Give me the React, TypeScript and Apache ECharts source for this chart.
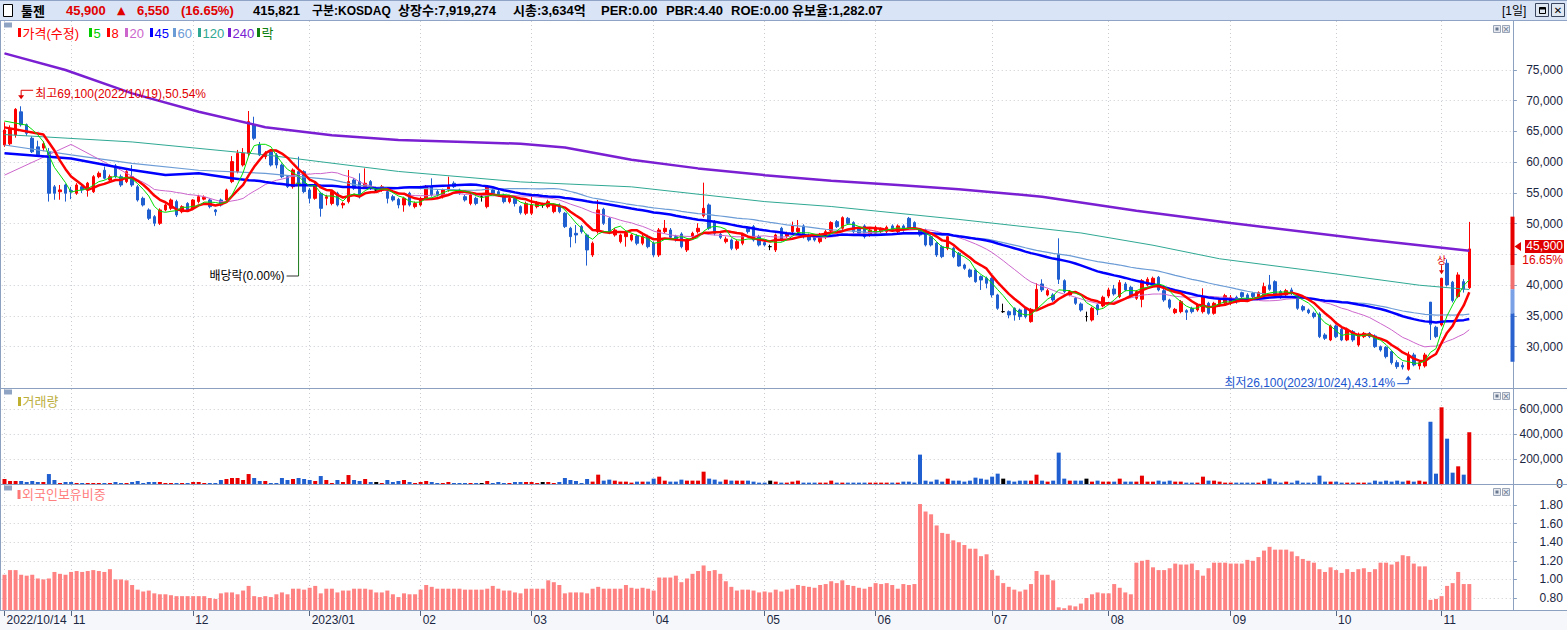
import React, { useEffect, useRef } from 'react';
import * as echarts from 'echarts';

// ---------------- data ----------------
const openP = [
62800,63000,64430,68200,66100,63900,62500,62300,61700,56000,
55200,56300,55400,54950,56000,55500,55200,57650,58700,57100,
59400,57650,56850,57650,56000,54130,52240,51150,50070,52240,
52500,53600,51950,53300,52500,53600,54000,53860,52240,53860,
53860,56850,58470,59550,61450,66060,62800,60900,61700,61180,
59550,57650,56030,58470,58470,55490,54130,54950,54130,53300,
54950,53050,53600,57100,56850,56030,56850,55490,55490,55220,
54400,53970,53050,54950,52780,53050,54130,56030,55220,54400,
55490,56580,55490,54400,53300,54130,54400,52780,55490,55220,
54670,53590,54130,52780,51700,51700,52780,53050,52780,51970,
53050,51700,49260,48440,49530,48170,44920,48710,52350,50880,
48170,47090,47900,47360,48010,46820,47900,46820,44920,48710,
48980,47900,48330,45730,47900,48710,51300,53050,50340,48280,
47090,47360,46000,46820,49260,49530,47900,46930,46270,45730,
49260,48010,48710,48710,49640,48170,48010,47090,47790,48880,
50340,49260,50880,50180,49260,49640,48170,48440,48710,48710,
49640,48710,49640,50880,50180,49090,48980,47900,46820,46270,
46000,46000,45190,43290,42480,42480,41400,41130,41130,38420,
35700,35700,36250,35970,36250,34080,36080,40200,38420,38420,
45030,40740,38420,37870,36950,34900,34350,36790,36630,38250,
39390,38150,40200,39660,37870,37710,40040,40200,41290,39120,
37600,35540,35700,35870,36250,35970,35700,37060,35430,36790,
37100,37060,38030,38790,38420,38690,38030,38420,40040,40580,
38960,38420,39230,38420,36520,35970,35430,35330,31910,31100,
33370,32830,31100,32450,30280,31640,32180,31750,30010,29900,
29200,27410,26980,26330,28660,26870,26870,37250,33160,33540,
43570,40500,38150,40580,39600
];
const highP = [
66500,66000,68800,69100,66300,64200,63500,63400,62300,56300,
56300,56500,56000,56600,56400,56800,57900,58500,59300,58000,
59700,58000,58700,59550,56300,54400,52500,51400,52500,53300,
54100,53900,53000,53500,54000,54700,54600,54100,52400,54100,
55700,61000,62000,62300,68330,67400,63300,61800,62000,61500,
59800,57900,59000,60900,58700,55800,56600,55200,54700,55500,
55200,53600,58740,57400,58200,59000,57100,56000,56300,55500,
54700,54200,54400,55200,53600,54400,56300,57380,55500,55700,
57650,56900,55700,54700,54900,54400,54800,56300,55700,55500,
54900,54400,54400,53000,53600,54400,53700,53400,53900,53300,
53300,51900,49500,49800,49800,48400,47100,53860,52600,51100,
49300,48400,48700,48400,48300,48200,48200,47100,49300,50610,
49300,48200,48600,47600,48700,50070,56680,53300,50600,48500,
47900,47600,47400,48500,49500,49800,48200,47200,46600,48400,
49500,48700,50340,50610,49900,48400,48300,48500,49000,50400,
50600,51200,51100,50400,49500,49900,49300,49700,49400,49700,
49900,49900,49900,51100,50400,49300,49200,48100,47000,46500,
48100,46200,45400,43500,42700,42700,41600,41400,41300,38600,
37000,35900,36400,36200,36400,36300,40310,40960,39400,38700,
47630,40960,39200,38100,37200,35700,36500,37000,38300,39600,
40040,40850,40500,39900,39200,41000,41300,41400,41500,39400,
37800,36300,37600,36100,36500,37000,39500,37300,37300,37900,
38600,38400,38300,38950,38700,38900,39000,40420,41670,40800,
39200,39400,39600,38700,36800,36200,35700,35600,32200,33600,
33600,33100,33100,32700,32300,32400,32400,32000,30200,30100,
29400,27800,27500,29200,29000,27700,29000,37250,33400,41130,
44200,40700,42100,41000,50300
];
const lowP = [
62500,62700,64000,65800,64300,61500,60900,61800,53600,53900,
53900,53600,54000,54700,55000,54400,55000,57400,57200,56900,
57400,56000,56600,56000,53600,52800,50600,49600,49800,52000,
52200,51100,51700,52000,52200,53300,53800,52500,51300,52800,
53600,56600,58200,59300,61000,63600,61000,60500,59300,59000,
57400,55800,55700,56300,54950,53300,53900,51150,53000,53000,
52800,52500,53300,55500,54100,55800,55500,55000,55200,53300,
53600,52500,51950,52800,52500,52800,53900,54400,54400,54100,
55200,55800,54700,53600,53000,53000,53600,52500,54700,54400,
53300,53300,52800,51500,51400,51400,52500,52600,52500,51700,
51700,49300,46160,46820,48400,43190,44600,48400,49800,48300,
47900,46800,46270,47100,46500,46500,46000,44600,44600,48400,
47500,47100,46000,45400,47600,48400,51000,49000,48100,47500,
46800,45700,45700,46500,48400,47100,46300,46300,45700,45400,
47100,47700,48400,48400,47600,47100,47100,46800,47500,48600,
49300,49000,49800,48400,48200,47600,47900,48200,48400,48400,
48700,48400,48700,49000,49000,47900,46300,46300,44600,44400,
45700,44400,43000,42500,41200,40400,39230,39500,38000,36000,
35500,34620,34240,34350,34600,33900,35800,38900,38200,37300,
40200,38700,38200,36800,35700,34100,34100,35150,36400,37900,
38300,37900,39000,38000,37600,36410,39800,39900,39000,37300,
36100,35300,35430,34350,35400,35700,35400,35200,35200,36500,
36800,36800,37000,37330,37300,37900,37800,38200,39100,38200,
37800,38200,38400,36000,35700,35300,34600,31400,31100,30900,
31400,30900,30900,30800,30000,31400,31400,29800,29200,28100,
27100,26400,26300,26100,26800,26300,26600,31100,31400,33300,
39800,37200,37900,38800,39400
];
const closeP = [
65240,65500,68600,66100,64700,61700,61200,63000,54950,54950,
55500,54950,55200,56300,55500,56600,57650,58200,57400,57650,
57650,56300,58470,56300,53860,53050,50880,50070,52240,53050,
53860,51420,52780,52240,53860,54400,54300,52780,51950,53050,
55490,60100,61450,61450,66600,63900,61180,61450,59550,59550,
57650,56030,58740,56580,55220,54130,56300,52500,54400,55220,
53050,53300,56850,55760,54400,56580,55760,55490,56030,54130,
53860,53050,54130,53050,53300,54130,56030,54670,54670,55490,
56030,56030,54950,53860,54670,53300,54400,56030,54950,54670,
53590,54130,53300,51800,53300,53050,53450,53050,53590,53050,
51970,49530,47900,48170,48710,45730,46820,52240,50070,48550,
48980,48170,48440,48170,46820,47900,46270,44920,48980,49260,
47790,47360,46270,47360,48440,49260,52510,49260,48440,47790,
47520,46000,47090,48280,48710,47360,46550,46550,46270,48170,
47360,48440,49640,49260,47900,47360,47360,48280,48710,50180,
49530,50990,50070,48710,48440,47900,48980,49420,49090,49420,
48980,49640,48980,49260,49260,48170,46550,46550,44920,44650,
47900,44650,43130,42750,41400,40580,40850,40310,38420,36250,
35700,35160,35160,34890,34890,36080,39330,39230,39120,37600,
40960,38960,38960,37060,35970,34900,36250,35970,38040,39230,
38580,40420,39230,38250,38960,40740,40960,41130,39230,37600,
36410,36080,37330,35600,35700,36790,38150,35430,37060,37600,
38300,38030,37330,38150,37600,38150,38790,39770,39340,38420,
38030,39120,38690,36250,35970,35540,34890,31640,31370,33370,
31640,31100,32830,31100,32020,32180,31640,30010,29470,28390,
27410,26760,26700,28660,27030,27410,28660,33650,31640,41130,
40040,37500,41670,39350,45900
];
const volume = [
40000,24000,24000,24000,16000,24000,16000,16000,80000,32000,
8000,16000,16000,8000,8000,8000,8000,8000,8000,8000,
16000,8000,8000,16000,24000,8000,16000,16000,16000,8000,
8000,8000,8000,8000,16000,16000,8000,8000,8000,32000,
40000,48000,48000,32000,80000,48000,24000,24000,8000,8000,
48000,32000,40000,48000,40000,32000,24000,64000,32000,8000,
32000,16000,72000,32000,24000,40000,16000,16000,8000,32000,
16000,24000,32000,16000,8000,16000,24000,16000,8000,8000,
16000,8000,8000,8000,8000,8000,8000,24000,8000,16000,
8000,8000,16000,16000,16000,16000,8000,16000,16000,8000,
16000,48000,32000,24000,8000,40000,19000,75000,27000,35000,
27000,19000,19000,11000,19000,19000,19000,43000,59000,27000,
19000,19000,35000,27000,27000,27000,99000,43000,35000,19000,
35000,27000,27000,27000,27000,19000,11000,11000,27000,19000,
11000,11000,19000,27000,11000,11000,11000,11000,11000,27000,
11000,11000,11000,11000,11000,11000,11000,11000,11000,11000,
11000,11000,19000,19000,11000,236000,27000,19000,35000,19000,
43000,27000,27000,19000,27000,51000,43000,35000,59000,83000,
43000,27000,19000,27000,27000,27000,75000,27000,19000,27000,
252000,43000,27000,27000,27000,43000,19000,27000,19000,19000,
19000,43000,19000,19000,19000,67000,19000,19000,27000,19000,
27000,19000,19000,11000,11000,11000,59000,27000,27000,19000,
11000,11000,11000,11000,11000,11000,11000,27000,43000,19000,
11000,19000,11000,27000,11000,11000,11000,67000,19000,19000,
19000,11000,11000,11000,11000,11000,11000,27000,19000,27000,
19000,27000,19000,27000,19000,27000,19000,500000,83000,616000,
364000,91000,142000,75000,415821
];
const foreign = [
1.05,1.10,1.10,1.05,1.04,1.05,1.01,1.00,1.01,1.08,
1.06,1.05,1.08,1.09,1.08,1.09,1.10,1.09,1.08,1.11,
1.00,1.00,0.99,0.94,0.89,0.87,0.88,0.85,0.84,0.84,
0.83,0.82,0.82,0.82,0.82,0.82,0.82,0.80,0.79,0.85,
0.86,0.86,0.84,0.88,0.93,0.82,0.81,0.82,0.81,0.84,
0.86,0.84,0.90,0.90,0.89,0.91,0.93,0.85,0.90,0.90,
0.86,0.88,0.88,0.90,0.90,0.90,0.89,0.86,0.86,0.88,
0.84,0.81,0.85,0.84,0.84,0.89,0.94,0.92,0.90,0.90,
0.90,0.90,0.90,0.89,0.89,0.89,0.89,0.90,0.93,0.90,
0.88,0.88,0.86,0.85,0.90,0.90,0.90,0.90,0.99,0.97,
0.94,0.85,0.86,0.86,0.86,0.85,0.90,0.92,0.90,0.90,
0.90,0.90,0.94,0.91,0.90,0.91,0.90,0.88,1.02,1.02,
1.02,1.04,0.97,1.01,1.06,1.09,
1.15,1.09,1.10,1.06,0.98,0.92,0.88,0.89,0.89,0.88,
0.86,0.87,0.86,0.89,0.87,0.89,0.90,0.94,0.93,0.92,
0.91,0.94,0.95,0.98,0.96,0.99,0.94,0.93,0.91,0.90,
0.92,0.96,0.95,0.96,0.94,0.90,0.95,0.94,0.95,
1.81,1.73,1.70,1.58,1.50,1.49,1.42,1.40,1.37,1.33,
1.33,1.25,1.27,1.10,1.04,0.96,0.92,0.89,0.87,0.89,
0.95,1.09,1.05,1.05,0.99,0.70,0.69,0.72,0.71,0.74,
0.80,0.84,0.86,0.85,0.85,0.95,0.91,0.86,0.84,1.18,
1.20,1.21,1.13,1.10,1.10,1.12,1.17,1.16,1.16,1.17,
1.10,1.04,1.12,1.18,1.18,1.18,1.17,1.17,1.17,1.21,
1.20,1.24,1.31,1.35,1.32,1.32,1.32,1.30,1.25,1.22,
1.20,1.18,1.11,1.08,1.13,1.10,1.07,1.11,1.08,1.11,
1.12,1.08,1.11,1.18,1.18,1.16,1.19,1.26,1.25,1.17,
1.14,1.14,0.78,0.79,0.82,0.93,0.96,1.08,0.95,0.95
];

const ma5Lead: [number, number][] = [[0, 66700]];
const ma8Lead: [number, number][] = [[0, 65670]];
const ma20Lead: [number, number][] = [[0, 57900], [6, 60400], [12, 62900]];
const ma45Lead: [number, number][] = [[0, 61450], [12, 60600], [23, 58740], [29, 57930], [35, 58200], [41, 57380]];
const ma60Lead: [number, number][] = [[0, 62800], [12, 61200], [23, 59800], [35, 58700], [47, 58200]];
const ma120Pts: [number, number][] = [[0,64500],[23,63300],[47,61200],[71,58500],[93,56800],[113,56000],[137,53600],[149,52800],[172,50700],[194,48500],[207,46500],[219,44300],[237,42200],[255,40000],[264,39300]];
const ma240Pts: [number, number][] = [[0,77700],[11,75000],[23,71200],[35,68200],[47,65700],[59,64400],[71,63600],[83,63300],[93,63000],[101,62400],[113,60400],[125,59000],[137,57900],[149,57000],[161,56300],[172,55600],[187,54400],[204,52100],[221,50100],[246,47400],[264,45600]];

// x-axis tick labels (bar index -> label)
const monthTicks: [number, string][] = [[0,'2022/10/14'],[12,'11'],[34,'12'],[55,'2023/01'],[75,'02'],[95,'03'],[117,'04'],[137,'05'],[157,'06'],[178,'07'],[199,'08'],[221,'09'],[240,'10'],[259,'11']];
const priceTicks = [30000, 35000, 40000, 45000, 50000, 55000, 60000, 65000, 70000, 75000];
const priceLabels = [30000, 35000, 40000, 50000, 55000, 60000, 65000, 70000, 75000];
const volTicks = [0, 200000, 400000, 600000];
const forTicks = [0.8, 1.0, 1.2, 1.4, 1.6, 1.8];

const highDate = '2022/10/19';
const lowDate = '2023/10/24';
const exDivIndex = 53;
const upperLimitDays = [259];

const headerInfo: [string, number, number][] = [
  ['구분:KOSDAQ', 312, 12], ['상장수:7,919,274', 398, 13], ['시총:3,634억', 513, 13], ['PER:0.00', 601, 13],
  ['PBR:4.40', 666, 13], ['ROE:0.00', 731, 13], ['유보율:1,282.07', 792, 13],
];

// ---------------- helpers ----------------
const N = closeP.length;
const SLOTS = 272;
const RED = '#ff0000';
const BLUE = '#1f5fd0';
const GRID_COLOR = '#c8ccd3';
const AXIS_COLOR = '#8ca0c0';
const TXT = '#1b2642';
const FONT = '"Liberation Sans", "Noto Sans CJK KR", sans-serif';

const fmt = (v: number) => Math.round(v).toLocaleString('en-US');

function movingAvg(n: number, lead: [number, number][]) {
  const out: (number | null)[] = new Array(N).fill(null);
  lead.forEach(([i, v]) => { out[i] = v; });
  for (let i = n - 1; i < N; i++) {
    let s = 0;
    for (let k = i - n + 1; k <= i; k++) s += closeP[k];
    out[i] = Math.round(s / n);
  }
  return out;
}
function fromPoints(pts: [number, number][]) {
  const out: (number | null)[] = new Array(N).fill(null);
  pts.forEach(([i, v]) => { out[i] = v; });
  return out;
}

export default function App() {
  const ref = useRef<HTMLDivElement>(null);

  useEffect(() => {
    document.body.style.margin = '0';
    const el = ref.current!;
    const chart = echarts.init(el, null, { renderer: 'svg', width: 1567, height: 630 });

    const cats = Array.from({ length: SLOTS }, (_, i) => String(i));
    const monthIdx = new Set(monthTicks.map((t) => t[0]));
    const monthLabel = new Map(monthTicks);
    const isMonth = (idx: number) => monthIdx.has(idx);

    const candle = closeP.map((c, i) => [openP[i], c, lowP[i], highP[i]]);
    const dirColor = (i: number) => (closeP[i] > openP[i] ? '#e80000' : closeP[i] < openP[i] ? BLUE : '#000000');
    const volData = volume.map((v, i) => ({ value: v, itemStyle: { color: dirColor(i) } }));

    const xAxisOf = (g: number, show: boolean) => ({
      type: 'category', gridIndex: g, data: cats, boundaryGap: true,
      axisLine: { show: false },
      axisTick: show ? { show: true, interval: isMonth, alignWithLabel: true, length: 6, lineStyle: { color: '#56657f' } } : { show: false },
      axisLabel: show ? {
        show: true, interval: isMonth, formatter: (v: string) => monthLabel.get(Number(v)) ?? '',
        align: 'left', padding: [0, 0, 0, 2], margin: 4, color: TXT, fontSize: 12, fontFamily: FONT,
      } : { show: false },
      splitLine: { show: true, interval: isMonth, alignWithLabel: true, lineStyle: { color: GRID_COLOR, type: [1, 3] } },
    });
    const yAxisOf = (g: number, min: number, max: number, ticks: number[], labels: number[], f: (v: number) => string) => ({
      type: 'value', gridIndex: g, position: 'right', min, max, offset: 2,
      axisLine: { show: true, lineStyle: { color: AXIS_COLOR } },
      axisTick: { show: true, customValues: ticks, length: 4, lineStyle: { color: AXIS_COLOR } },
      axisLabel: { show: true, customValues: labels, formatter: f, align: 'right', margin: 50, color: TXT, fontSize: 12, fontFamily: FONT },
      splitLine: { show: true, lineStyle: { color: GRID_COLOR, type: [1, 3] } },
    });
    const maLine = (data: (number | null)[], color: string, width: number, z: number) => ({
      type: 'line', xAxisIndex: 0, yAxisIndex: 0, data, symbol: 'none', connectNulls: true, silent: true, z,
      lineStyle: { color, width }, emphasis: { disabled: true },
    });

    const gl = 1.73, gr = 56.1;
    chart.setOption({
      animation: false,
      backgroundColor: 'transparent',
      grid: [
        { left: gl, right: gr, top: 21, height: 367 },
        { left: gl, right: gr, top: 389, height: 95 },
        { left: gl, right: gr, top: 485, height: 125 },
      ],
      xAxis: [xAxisOf(0, false), xAxisOf(1, false), xAxisOf(2, true)],
      yAxis: [
        yAxisOf(0, 23284, 82969, priceTicks, priceLabels, fmt),
        yAxisOf(1, 0, 763000, volTicks, volTicks, fmt),
        yAxisOf(2, 0.671, 2.015, forTicks, forTicks, (v: number) => v.toFixed(2)),
      ],
      series: [
        {
          type: 'candlestick', xAxisIndex: 0, yAxisIndex: 0, data: candle, barWidth: 3, z: 2, silent: true,
          itemStyle: { color: RED, color0: BLUE, borderColor: RED, borderColor0: BLUE, borderColorDoji: '#000', borderWidth: 1 },
        },
        maLine(fromPoints(ma240Pts), '#7a1fd2', 2.5, 3),
        maLine(fromPoints(ma120Pts), '#2fa893', 1, 3),
        maLine(movingAvg(60, ma60Lead), '#6c9cd6', 1.2, 3),
        maLine(movingAvg(20, ma20Lead), '#cc66cc', 1, 3),
        maLine(movingAvg(45, ma45Lead), '#0000ff', 2.5, 4),
        maLine(movingAvg(8, ma8Lead), '#ff0000', 2.5, 4),
        maLine(movingAvg(5, ma5Lead), '#00dd00', 1, 5),
        { type: 'bar', xAxisIndex: 1, yAxisIndex: 1, data: volData, barWidth: 4, silent: true },
        { type: 'bar', xAxisIndex: 2, yAxisIndex: 2, data: foreign, barWidth: 4, silent: true, itemStyle: { color: '#ff8282' } },
      ],
    });

    // ---------- decorations ----------
    const P = (i: number, v: number) => chart.convertToPixel({ xAxisIndex: 0, yAxisIndex: 0 }, [i, v]) as number[];
    const g: any[] = [];
    const T = (text: string, x: number, y: number, fill: string, font: string, align = 'left', z = 60) => ({
      type: 'text', x, y, z, silent: true,
      style: { text, fill, font, textAlign: align, textVerticalAlign: 'middle' },
    });
    const R = (x: number, y: number, w: number, h: number, fill: string, stroke?: string, z = 50) => ({
      type: 'rect', z, silent: true, shape: { x, y, width: w, height: h },
      style: { fill, stroke: stroke || null, lineWidth: stroke ? 1 : 0 },
    });
    const L = (x1: number, y1: number, x2: number, y2: number, stroke: string, lw = 1, z = 55) => ({
      type: 'line', z, silent: true, shape: { x1, y1, x2, y2 }, style: { stroke, lineWidth: lw },
    });
    const PG = (points: number[][], fill: string, z = 56) => ({ type: 'polygon', z, silent: true, shape: { points }, style: { fill } });

    const last = closeP[N - 1];
    const prev = closeP[N - 2];
    const diff = last - prev;
    const pct = ((diff / prev) * 100).toFixed(2);

    // bottom strip and frame lines
    g.push(R(0, 611, 1567, 19, '#f5f7fa', undefined, -1));
    g.push(L(0, 388.5, 1567, 388.5, AXIS_COLOR, 1, 40));
    g.push(L(0, 484.5, 1567, 484.5, AXIS_COLOR, 1, 40));
    g.push(L(0, 610.5, 1567, 610.5, AXIS_COLOR, 1, 40));
    g.push(L(0.5, 20, 0.5, 611, AXIS_COLOR, 1, 40));

    // header
    g.push(R(0, 0, 1567, 20.5, '#d9e4f6', undefined, 70));
    g.push(L(0, 0.5, 1567, 0.5, '#8ea3c6', 1, 71));
    g.push(L(0, 20.5, 1567, 20.5, '#8ea3c6', 1, 71));
    g.push(R(3.5, 4.5, 9, 12, '#ffffff', '#000000', 72));
    const HB13 = 'bold 13px ' + FONT;
    g.push(T('툴젠', 21, 10.5, '#000', 'bold 13px "Noto Sans CJK KR", sans-serif', 'left', 73));
    g.push(T(fmt(last), 66, 10.5, '#e00000', HB13, 'left', 73));
    g.push(T('▲', 117, 10.5, '#e00000', 'bold 11px "DejaVu Sans", sans-serif', 'left', 73));
    g.push(T(fmt(diff), 137, 10.5, '#e00000', HB13, 'left', 73));
    g.push(T(`(${pct}%)`, 181, 10.5, '#e00000', HB13, 'left', 73));
    g.push(T(fmt(volume[N - 1]), 253, 10.5, '#000', HB13, 'left', 73));
    headerInfo.forEach(([t, x, s]) => g.push(T(t, x, 10.5, '#000', `bold ${s}px ` + FONT, 'left', 73)));
    g.push(T('[1일]', 1502, 10.5, '#000', '12px ' + FONT, 'left', 73));
    g.push(R(1535.5, 3.5, 13, 13, '#dfe7f3', '#3a4660', 72));
    g.push(R(1539.5, 7.5, 6, 6, 'none', '#000', 73));
    g.push(R(1539.5, 7.5, 6, 2, '#000', undefined, 73));
    g.push(R(1551.5, 3.5, 13, 13, '#dfe7f3', '#3a4660', 72));
    g.push(T('✕', 1558, 10.5, '#000', 'bold 10px "DejaVu Sans", sans-serif', 'center', 73));

    // panel buttons and legends
    [25, 392, 488].forEach((y) => {
      g.push(R(1493.5, y + 0.5, 7, 7, '#e6eaf0', '#9aa6b8', 60));
      g.push(R(1495.5, y + 2.5, 3, 3, '#6a7890', undefined, 61));
      g.push(R(1502.5, y + 0.5, 7, 7, '#e6eaf0', '#9aa6b8', 60));
      g.push(T('×', 1506, y + 4, '#6a7890', '9px "DejaVu Sans", sans-serif', 'center', 61));
      g.push(R(4, y - 2.5, 8, 5, '#8fa3c3', undefined, 60));
    });
    const legendItems: [string, string, number][] = [
      ['가격(수정)', '#ff0000', 18], ['5', '#00cc00', 89], ['8', '#ff0000', 107], ['20', '#cc66cc', 125],
      ['45', '#0000ff', 150], ['60', '#6c9cd6', 173], ['120', '#2fa893', 198], ['240', '#7a1fd2', 228], ['락', '#108010', 257],
    ];
    const LF = '13px ' + FONT;
    legendItems.forEach(([t, c, x]) => {
      g.push(R(x, 28, 3, 9, c, undefined, 60));
      g.push(T(t, x + 4.5, 33, c, LF));
    });
    g.push(R(18, 397, 3, 9, '#c0b030', undefined, 60));
    g.push(T('거래량', 22.5, 401.5, '#bcae3c', LF));
    g.push(R(17.5, 490, 3, 9, '#ff7878', undefined, 60));
    g.push(T('외국인보유비중', 22, 494.5, '#ff7f7f', LF));

    // highest / lowest annotations
    const AF = '12px ' + FONT;
    const hi = Math.max(...highP);
    const hiIdx = highP.indexOf(hi);
    const [hx, hy] = P(hiIdx, hi);
    const annRed = '#e00000';
    g.push(L(hx, hy - 16, hx + 12, hy - 16, annRed));
    g.push(L(hx, hy - 16, hx, hy - 10, annRed));
    g.push(PG([[hx - 3, hy - 11], [hx + 3, hy - 11], [hx, hy - 7]], annRed));
    g.push(T(`최고${fmt(hi)}(${highDate}),${(((hi - last) / last) * 100).toFixed(2)}%`, hx + 14, hy - 12, annRed, AF));

    const lo = Math.min(...lowP);
    const loIdx = lowP.indexOf(lo);
    const [lx, ly] = P(loIdx, lo);
    const annBlue = '#1a56d0';
    g.push(L(lx - 11, ly + 13, lx, ly + 13, annBlue));
    g.push(L(lx, ly + 13, lx, ly + 8, annBlue));
    g.push(PG([[lx - 3, ly + 9], [lx + 3, ly + 9], [lx, ly + 5]], annBlue));
    g.push(T(`최저${fmt(lo)}(${lowDate}),${(((last - lo) / last) * 100).toFixed(2)}%`, lx - 13, ly + 12, annBlue, AF, 'right'));

    // ex-dividend marker
    const [dx, dy] = P(exDivIndex, closeP[exDivIndex]);
    g.push(L(dx, dy, dx, 276, '#1a7a1a'));
    g.push(L(dx - 3, dy, dx + 3, dy, '#1a9a1a'));
    g.push(L(dx - 12, 276, dx, 276, '#333333'));
    g.push(T('배당락(0.00%)', dx - 14, 276, '#000', AF, 'right'));

    // upper-limit marker
    upperLimitDays.forEach((i) => {
      const [ux, uy] = P(i, highP[i]);
      g.push(T('상', ux, uy - 19, annRed, '10px "Noto Sans CJK KR", sans-serif', 'center'));
      g.push(L(ux, uy - 13, ux, uy - 7, annRed));
      g.push(PG([[ux - 2.5, uy - 8], [ux + 2.5, uy - 8], [ux, uy - 4]], annRed));
    });

    // price-limit band on the axis
    const yy = (v: number) => P(0, v)[1];
    const limUp = Math.round((prev * 1.3) / 50) * 50;
    const limDn = Math.round((prev * 0.7) / 50) * 50;
    const tenUp = prev * 1.1, tenDn = prev * 0.9;
    g.push(R(1510.5, yy(limUp), 4, yy(tenUp) - yy(limUp), '#e60000', undefined, 58));
    g.push(R(1510.5, yy(tenUp), 4, yy(prev) - yy(tenUp), '#f07070', undefined, 58));
    g.push(R(1510.5, yy(prev), 4, yy(tenDn) - yy(prev), '#7aa0e6', undefined, 58));
    g.push(R(1510.5, yy(tenDn), 4, yy(limDn) - yy(tenDn), '#2a62d0', undefined, 58));

    // current price tag
    const yc = yy(last) - 2.5;
    g.push(PG([[1514.5, yc], [1521, yc - 4.5], [1521, yc + 4.5]], '#e00000', 60));
    g.push(R(1525, yc - 6.5, 39, 13, '#e00000', undefined, 60));
    g.push(T(fmt(last), 1563, yc, '#ffffff', '12px ' + FONT, 'right', 61));
    g.push(T(`${pct}%`, 1563, yc + 13.5, '#e00000', '12px ' + FONT, 'right', 61));

    chart.setOption({ graphic: { elements: g } });

    return () => chart.dispose();
  }, []);

  return <div ref={ref} style={{ position: 'fixed', left: 0, top: 0, width: 1567, height: 630, background: '#ffffff' }} />;
}
